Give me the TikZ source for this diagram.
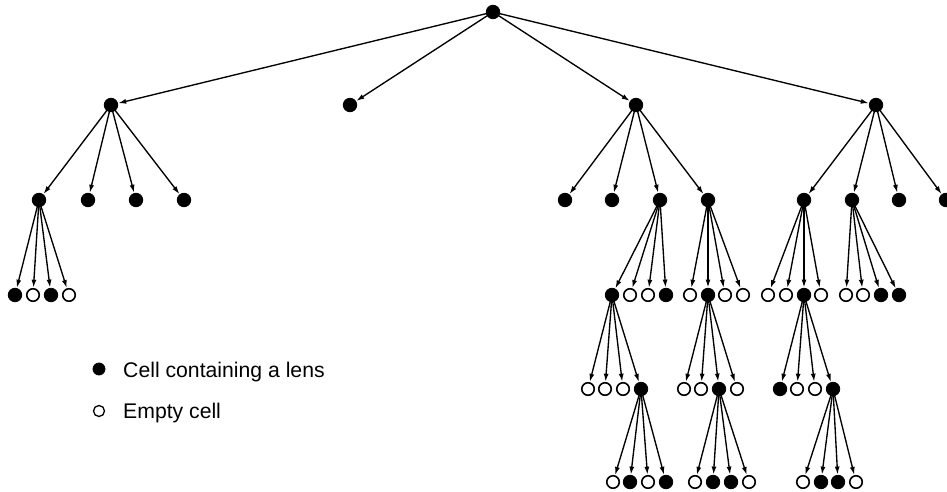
\documentclass[tikz,border=0pt]{standalone}
\usepackage{fontspec}
\setmainfont{Liberation Sans}
\usetikzlibrary{arrows.meta}
\begin{document}
\begin{tikzpicture}[x=1pt,y=-1pt,
  full/.style={circle,fill=black,draw=black,line width=0.8pt,minimum size=13.5pt,inner sep=0pt},
  hollow/.style={circle,fill=white,draw=black,line width=1.6pt,minimum size=12.5pt,inner sep=0pt},
  link/.style={line width=1.35pt,-{Latex[length=8pt,width=5pt]},shorten >=0.3pt},
  legtext/.style={font=\fontsize{21.2}{25}\selectfont,anchor=base west,inner sep=0pt}]
\useasboundingbox (0,0) rectangle (947,492);

% root and first level
\node[full] (r) at (493,12) {};
\node[full] (a) at (111,105) {};
\node[full] (b) at (350,105) {};
\node[full] (c) at (636,105) {};
\node[full] (d) at (876,105) {};

% second level
\node[full] (a1) at (39,200) {};
\node[full] (a2) at (88,200) {};
\node[full] (a3) at (136,200) {};
\node[full] (a4) at (184,200) {};
\node[full] (c1) at (565,200) {};
\node[full] (c2) at (612,200) {};
\node[full] (c3) at (660,200) {};
\node[full] (c4) at (708,200) {};
\node[full] (d1) at (804,200) {};
\node[full] (d2) at (852,200) {};
\node[full] (d3) at (899,200) {};
\node[full] (d4) at (946,200) {};

% third level
\node[full]   (a11) at (15,295) {};
\node[hollow] (a12) at (33,295) {};
\node[full]   (a13) at (51,295) {};
\node[hollow] (a14) at (69,295) {};
\node[full]   (c31) at (612,295) {};
\node[hollow] (c32) at (630,295) {};
\node[hollow] (c33) at (648,295) {};
\node[full]   (c34) at (666,295) {};
\node[hollow] (c41) at (690,295) {};
\node[full]   (c42) at (708,295) {};
\node[hollow] (c43) at (725,295) {};
\node[hollow] (c44) at (743,295) {};
\node[hollow] (d11) at (768,295) {};
\node[hollow] (d12) at (786,295) {};
\node[full]   (d13) at (804,295) {};
\node[hollow] (d14) at (821,295) {};
\node[hollow] (d21) at (846,295) {};
\node[hollow] (d22) at (863,295) {};
\node[full]   (d23) at (881,295) {};
\node[full]   (d24) at (899,295) {};

% fourth level
\node[hollow] (c311) at (588,389) {};
\node[hollow] (c312) at (605,389) {};
\node[hollow] (c313) at (623,389) {};
\node[full]   (c314) at (641,389) {};
\node[hollow] (c421) at (684,389) {};
\node[hollow] (c422) at (701,389) {};
\node[full]   (c423) at (719,389) {};
\node[hollow] (c424) at (737,389) {};
\node[full]   (d131) at (780,389) {};
\node[hollow] (d132) at (797,389) {};
\node[hollow] (d133) at (815,389) {};
\node[full]   (d134) at (833,389) {};

% fifth level
\node[hollow] (c3141) at (613,482) {};
\node[full]   (c3142) at (630,482) {};
\node[hollow] (c3143) at (648,482) {};
\node[full]   (c3144) at (666,482) {};
\node[hollow] (c4231) at (695,482) {};
\node[full]   (c4232) at (713,482) {};
\node[full]   (c4233) at (731,482) {};
\node[hollow] (c4234) at (749,482) {};
\node[hollow] (d1341) at (803,482) {};
\node[full]   (d1342) at (821,482) {};
\node[full]   (d1343) at (838,482) {};
\node[hollow] (d1344) at (856,482) {};

% connectors
\foreach \p/\k in {r/a,r/b,r/c,r/d,
  a/a1,a/a2,a/a3,a/a4, c/c1,c/c2,c/c3,c/c4, d/d1,d/d2,d/d3,d/d4,
  a1/a11,a1/a12,a1/a13,a1/a14,
  c3/c31,c3/c32,c3/c33,c3/c34, c4/c41,c4/c42,c4/c43,c4/c44,
  d1/d11,d1/d12,d1/d13,d1/d14, d2/d21,d2/d22,d2/d23,d2/d24,
  c31/c311,c31/c312,c31/c313,c31/c314,
  c42/c421,c42/c422,c42/c423,c42/c424,
  d13/d131,d13/d132,d13/d133,d13/d134,
  c314/c3141,c314/c3142,c314/c3143,c314/c3144,
  c423/c4231,c423/c4232,c423/c4233,c423/c4234,
  d134/d1341,d134/d1342,d134/d1343,d134/d1344}
  \draw[link] (\p.center) -- (\k);

% legend
\node[full,minimum size=12pt] (lf) at (99,369) {};
\node[hollow,minimum size=11pt,line width=1.3pt] (lh) at (99,411) {};
\node[legtext] (lft) at (123,377) {Cell containing a lens};
\node[legtext] (lht) at (123,418) {Empty cell};
\end{tikzpicture}
\end{document}
